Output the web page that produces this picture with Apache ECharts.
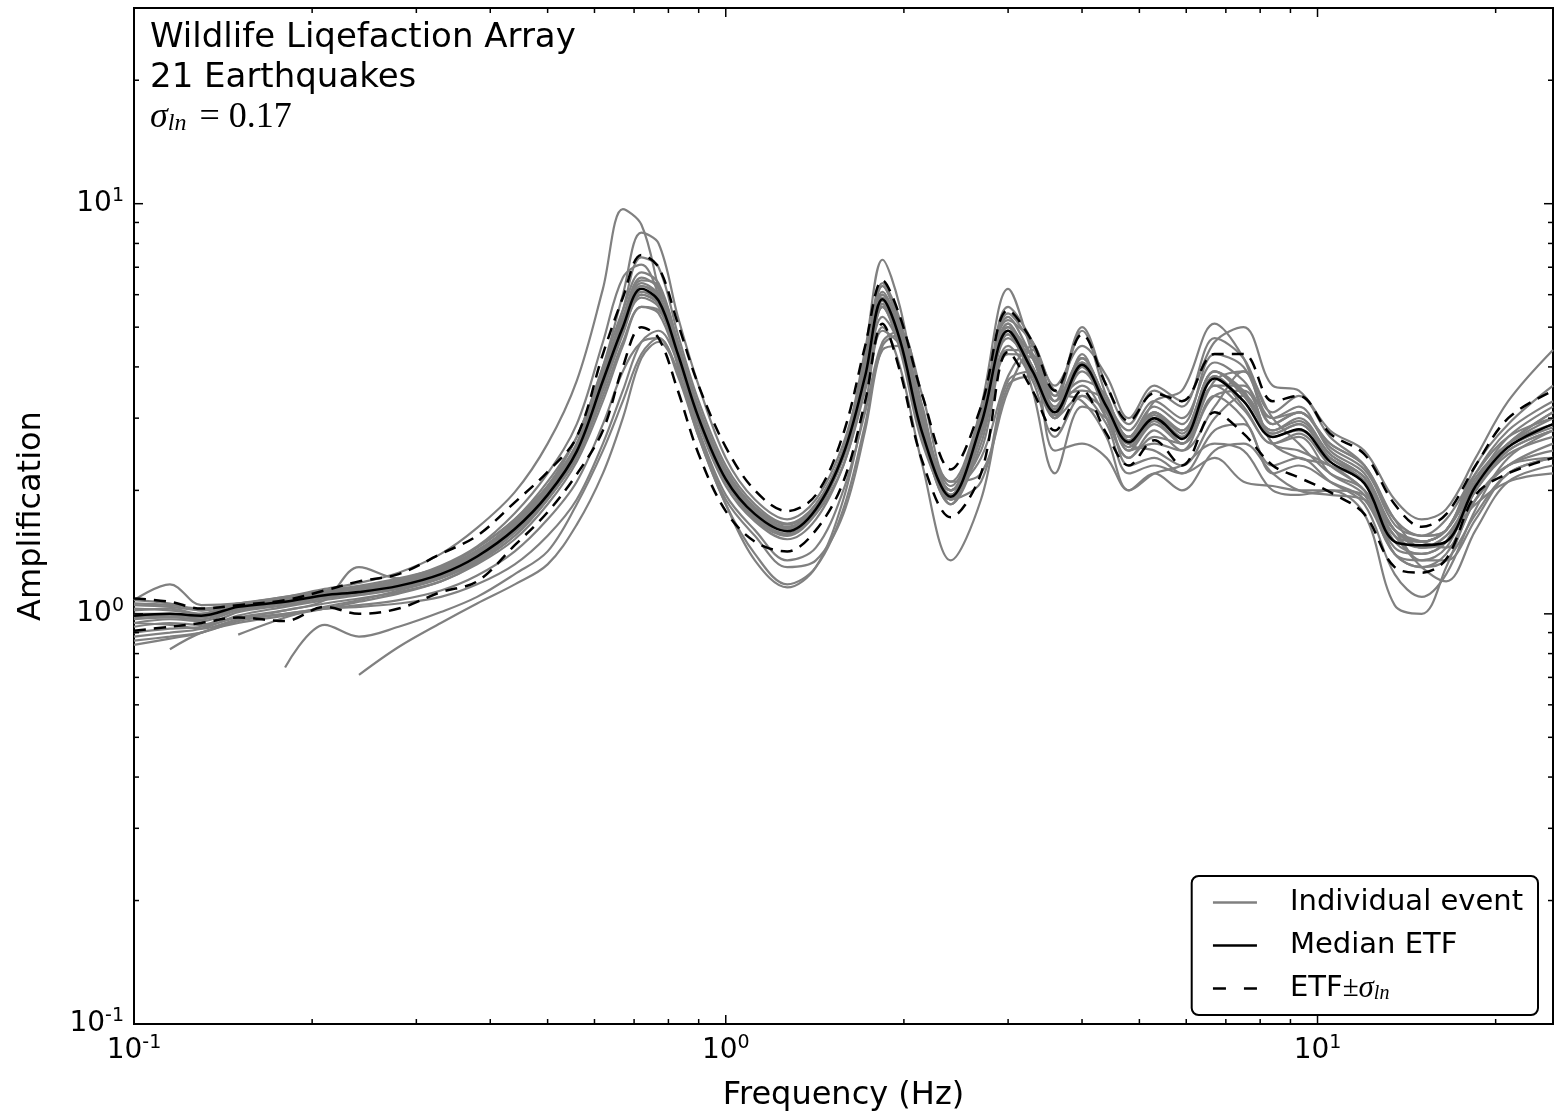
<!DOCTYPE html>
<html><head><meta charset="utf-8">
<script src="https://cdn.jsdelivr.net/npm/echarts@6/dist/echarts.min.js"></script>
<style>html,body{margin:0;padding:0;background:#fff}#c{width:1560px;height:1117px}</style>
</head><body><div id="c"></div>
<script>
// Frequency grid (Hz)
const freq = [0.1,0.115,0.13,0.15,0.18, 0.21,0.24,0.28,0.33,0.38, 0.44,0.5,0.56,0.62,0.67, 0.72,0.77,0.83,0.9,1.0, 1.12,1.27,1.42,1.58,1.72, 1.84,1.97,2.15,2.4,2.7, 3.0,3.3,3.6,4.0,4.4, 4.8,5.3,5.9,6.7,7.5, 8.4,9.3,10.5,12,13.5, 15,16.5,18.5,21,25];

const median = [0.99,1.0,0.99,1.04,1.07, 1.11,1.13,1.17,1.25,1.38, 1.61,1.95,2.49,3.7,5.0, 6.2,5.8,4.3,3.0,2.13, 1.75,1.59,1.8,2.45,3.8, 5.85,4.65,2.75,1.93,2.9, 4.9,3.9,3.1,4.05,3.2, 2.62,3.0,2.67,3.75,3.3, 2.7,2.82,2.35,2.08,1.5, 1.47,1.5,2.05,2.55,2.9];
const upperSigma = [1.09,1.07,1.03,1.05,1.08, 1.14,1.2,1.25,1.4,1.55, 1.87,2.22,2.7,4.3,5.9, 7.5,7.0,5.1,3.6,2.55, 2.0,1.78,1.95,2.75,4.5, 6.5,5.3,3.4,2.25,3.2, 5.5,4.6,3.5,4.8,3.6, 2.95,3.45,3.3,4.3,4.3, 3.3,3.4,2.75,2.45,1.85, 1.63,1.75,2.3,3.0,3.5];
const lowerSigma = [0.91,0.93,0.95,0.98,0.96, 1.04,1.0,1.03,1.13,1.2, 1.47,1.77,2.19,2.8,4.0, 5.0,4.7,3.5,2.45,1.78, 1.5,1.42,1.6,2.1,3.3, 5.1,3.9,2.35,1.72,2.2, 4.35,3.5,2.8,3.5,2.75, 2.3,2.65,2.3,3.1,2.75, 2.3,2.15,1.98,1.75,1.3, 1.26,1.36,1.95,2.2,2.4];

const event01 = [1.05,1.04,1.02,1.06,1.1, 1.15,1.19,1.26,1.4,1.62, 1.98,2.6,3.7,6.2,9.7, 8.9,6.2,4.0,2.7,1.85, 1.35,1.16,1.3,1.9,3.2, 4.9,4.5,2.9,2.0,2.5, 4.3,4.2,3.2,3.6,3.0, 2.4,2.7,2.6,3.4,3.5, 2.6,2.5,2.3,2.1,1.6, 1.5,1.45,1.9,2.3,2.5];
const event02 = [1.0,0.99,1.0,1.05,1.08, 1.12,1.14,1.19,1.28,1.42, 1.68,2.05,2.7,4.0,6.0, 8.5,8.0,5.3,3.6,2.4, 1.9,1.7,1.9,2.6,4.1, 6.3,5.1,3.0,2.0,2.9, 5.4,4.5,3.3,4.9,3.4, 2.7,3.2,2.9,4.3,4.0, 3.0,3.2,2.5,2.2,1.6, 1.5,1.6,2.2,2.8,3.3];
const event03 = [0.97,0.98,0.97,1.03,1.07, 1.1,1.12,1.16,1.24,1.37, 1.6,1.95,2.5,3.7,5.5, 7.4,7.0,4.8,3.3,2.3, 1.85,1.66,1.85,2.5,4.0, 6.1,4.9,2.9,1.95,2.8, 5.0,4.2,3.2,4.2,3.3, 2.7,3.1,2.6,3.7,3.9, 2.9,3.1,2.6,2.3,1.7, 1.55,1.6,2.3,2.9,3.6];
const event04 = [1.08,1.06,1.02,1.05,1.09, 1.13,1.16,1.21,1.31,1.46, 1.76,2.2,2.9,4.6,6.6, 7.1,6.0,4.2,2.9,2.1, 1.72,1.6,1.8,2.5,4.2, 6.4,5.2,3.0,2.05,3.0, 5.6,4.6,3.4,5.0,3.6, 2.9,3.5,3.2,4.7,4.2, 3.1,3.4,2.7,2.3,1.65, 1.55,1.7,2.2,2.7,3.0];
const event05 = [null,null,null,null,null, null,0.71,0.83,0.95,1.06, 1.18,1.32,1.65,2.2,3.0, 4.2,4.6,3.9,2.8,1.95, 1.6,1.35,1.45,2.0,3.1, 4.6,4.9,3.2,1.9,2.1, 3.7,3.9,3.0,3.4,3.1, 2.3,2.4,2.2,2.8,2.9, 2.2,2.3,2.1,1.9,1.4, 1.3,1.35,1.75,2.2,2.4];
const event06 = [null,null,null,null,0.74, 0.94,0.88,0.93,1.01,1.1, 1.25,1.42,1.85,2.5,3.3, 4.3,4.7,3.9,2.75,1.9, 1.55,1.3,1.35,1.75,2.8, 4.5,4.8,3.4,2.1,2.2, 3.5,4.4,3.5,3.3,2.7, 2.0,2.2,2.0,2.5,2.6, 2.2,2.0,1.95,1.9,1.55, 1.3,1.2,1.6,2.1,2.3];
const event07 = [null,0.82,0.9,0.95,0.99, 1.03,1.07,1.12,1.2,1.32, 1.52,1.85,2.35,3.3,4.5, 5.6,5.5,4.2,3.0,2.15, 1.75,1.6,1.82,2.5,3.9, 5.6,4.6,2.8,1.95,2.8, 4.7,4.0,3.0,3.9,3.2, 2.5,2.9,2.6,3.6,3.6, 2.7,2.8,2.4,2.1,1.5, 1.4,1.5,2.0,2.5,2.8];
const event08 = [null,null,null,0.89,0.98, 1.04,1.08,1.14,1.22,1.34, 1.55,1.9,2.42,3.5,4.8, 6.0,5.7,4.3,3.05,2.2, 1.78,1.62,1.83,2.45,3.7, 5.7,4.7,2.85,2.0,3.0, 5.1,4.0,3.1,4.1,3.3, 2.7,3.1,2.8,3.9,3.4, 2.8,3.0,2.45,2.15,1.6, 1.5,1.6,2.1,2.6,2.9];
const event09 = [0.93,0.95,0.94,1.01,1.05, 1.09,1.12,1.16,1.25,1.4, 1.65,2.0,2.6,3.9,5.3, 6.6,6.2,4.5,3.1,2.2, 1.8,1.62,1.82,2.45,3.85, 5.9,4.7,2.8,1.9,2.8, 4.8,3.8,3.0,4.0,3.1, 2.6,3.0,2.7,3.8,3.2, 2.6,2.75,2.3,2.0,1.45, 1.4,1.5,2.1,2.6,3.1];
const event10 = [1.02,1.03,1.0,1.05,1.08, 1.12,1.15,1.19,1.28,1.42, 1.67,2.02,2.58,3.85,5.2, 6.5,6.3,4.6,3.2,2.25, 1.82,1.65,1.85,2.5,3.9, 6.0,4.8,2.85,1.95,2.9, 4.9,3.9,3.15,4.1,3.3, 2.65,3.0,2.8,3.9,3.5, 2.75,2.9,2.4,2.1,1.55, 1.45,1.55,2.0,2.45,2.7];
const event11 = [0.86,0.88,0.9,0.96,1.0, 1.03,1.04,1.06,1.1,1.18, 1.32,1.55,1.9,2.6,3.5, 4.6,4.9,4.1,3.0,2.1, 1.7,1.55,1.75,2.3,3.6, 5.3,4.5,2.7,1.85,2.6, 4.4,4.3,3.3,3.7,3.4, 2.5,2.6,2.5,3.2,3.9, 3.0,2.6,2.2,2.0,1.4, 1.3,1.4,1.9,2.3,2.6];
const event12 = [0.95,0.97,0.96,1.02,1.06, 1.1,1.13,1.18,1.27,1.4, 1.62,1.98,2.5,3.6,4.9, 5.9,5.6,4.2,2.95,2.1, 1.72,1.56,1.78,2.5,4.4, 7.3,5.6,3.0,1.85,3.2, 6.2,4.3,3.0,4.3,3.0, 2.4,2.8,2.5,3.4,3.0, 2.3,2.4,2.1,1.85,1.25, 1.1,1.25,1.8,2.4,2.8];
const event13 = [1.08,1.18,1.05,1.06,1.1, 1.14,1.17,1.22,1.3,1.45, 1.7,2.05,2.6,3.9,5.2, 6.4,6.0,4.4,3.05,2.15, 1.76,1.6,1.8,2.5,4.0, 6.0,4.8,2.8,2.1,3.1, 5.2,4.6,3.6,4.5,3.8, 3.0,3.6,3.3,4.6,5.0, 3.6,3.5,2.8,2.5,1.9, 1.7,1.8,2.4,3.3,4.4];
const event14 = [0.9,0.92,0.93,0.98,1.02, 1.06,1.09,1.13,1.2,1.33, 1.55,1.9,2.4,3.4,4.6, 5.6,5.4,4.1,2.9,2.05, 1.68,1.52,1.7,2.3,3.5, 5.0,4.0,2.3,1.35,1.9, 3.6,3.8,2.5,2.6,2.4, 2.0,2.2,2.3,2.6,2.5, 2.0,1.95,2.0,1.75,1.05, 1.0,1.3,1.9,2.3,2.4];
const event15 = [1.03,1.02,1.0,1.05,1.09, 1.13,1.16,1.2,1.3,1.45, 1.7,2.1,2.7,4.0,5.5, 6.8,6.4,4.6,3.15,2.2, 1.8,1.63,1.83,2.5,4.0, 6.3,5.0,2.9,2.0,3.0, 5.3,4.2,3.3,4.2,3.3, 2.8,3.3,3.0,4.1,3.7, 3.0,3.1,2.55,2.25,1.7, 1.55,1.6,2.1,2.7,3.2];
const event16 = [0.95,0.94,0.92,0.97,1.0, 1.03,1.05,1.08,1.14,1.24, 1.42,1.7,2.1,2.9,3.9, 4.6,4.7,3.8,2.7,1.85, 1.4,1.18,1.3,1.8,2.9, 4.4,4.5,3.1,2.0,2.4, 3.8,4.5,3.4,3.5,3.3, 2.6,2.5,2.3,3.0,3.4, 2.6,2.4,2.3,2.0,1.6, 1.35,1.35,1.7,2.2,2.4];
const event17 = [0.98,0.99,0.98,1.03,1.07, 1.11,1.13,1.17,1.26,1.39, 1.63,2.0,2.55,3.8,5.1, 6.3,5.9,4.35,3.0,2.15, 1.77,1.6,1.82,2.48,3.85, 5.8,4.6,2.75,1.9,2.85, 4.8,3.8,3.05,4.0,3.15, 2.55,2.95,2.6,3.6,3.15, 2.6,2.7,2.2,1.95,1.4, 1.35,1.45,2.0,2.5,2.8];
const event18 = [1.0,1.0,0.99,1.04,1.08, 1.12,1.14,1.2,1.29,1.43, 1.66,2.0,2.55,3.75,5.1, 6.3,6.0,4.4,3.05,2.15, 1.76,1.6,1.8,2.4,3.7, 5.6,4.4,2.6,1.9,3.0, 5.1,3.5,2.2,3.2,3.0, 2.6,3.3,3.5,5.1,4.2, 2.9,3.1,2.6,2.3,1.7, 1.45,1.5,2.0,2.6,3.1];
const event19 = [1.06,1.05,1.03,1.06,1.09, 1.13,1.15,1.19,1.28,1.42, 1.65,2.0,2.55,3.75,5.0, 6.1,5.8,4.3,3.0,2.15, 1.78,1.62,1.83,2.45,3.75, 5.6,4.5,2.7,1.85,2.7, 4.5,3.7,2.7,3.4,2.9, 2.2,2.3,2.2,2.4,2.1, 2.05,2.0,2.0,1.95,1.6, 1.45,1.55,1.85,2.1,2.2];
const event20 = [0.88,0.9,0.92,0.99,1.04, 1.08,1.11,1.15,1.23,1.36, 1.58,1.92,2.45,3.6,4.9, 6.0,5.7,4.25,2.95,2.1, 1.72,1.57,1.77,2.4,3.8, 5.7,4.55,2.7,1.9,2.85, 4.9,3.95,3.1,4.1,3.25, 2.6,3.05,2.7,3.8,3.3, 2.75,2.9,2.4,2.15,1.55, 1.5,1.6,2.15,2.6,3.0];
const event21 = [0.84,0.87,0.9,0.97,1.02, 1.08,1.3,1.22,1.24,1.35, 1.58,1.93,2.45,3.6,4.95, 6.1,5.75,4.25,3.0,2.15, 1.76,1.6,1.8,2.45,3.8, 5.8,4.6,2.75,1.95,2.95, 5.0,4.0,3.15,4.2,3.3, 2.7,3.1,2.75,3.9,3.45, 2.8,2.95,2.45,2.15,1.6, 1.5,1.6,2.1,2.55,2.85];

const events = [event01,event02,event03,event04,event05,event06,event07,event08,event09,event10,event11,event12,event13,event14,event15,event16,event17,event18,event19,event20,event21];

// Axis ticks
const xMajorTicks = [0.1, 1, 10];
const xMinorTicks = [0.2,0.3,0.4,0.5,0.6,0.7,0.8,0.9,2,3,4,5,6,7,8,9,20];
const yMajorTicks = [0.1, 1, 10];
const yMinorTicks = [0.2,0.3,0.4,0.5,0.6,0.7,0.8,0.9,2,3,4,5,6,7,8,9,20];

const titleLines = ['Wildlife Liqefaction Array', '21 Earthquakes'];

const pair = arr => freq.map((f, i) => [f, arr[i]]);

const series = [];
events.forEach(ev => {
  series.push({
    type: 'line', name: 'Individual event', data: pair(ev),
    showSymbol: false, symbol: 'none', smooth: 0.35, connectNulls: false,
    lineStyle: {color: '#808080', width: 2.2}, itemStyle: {color: '#808080'},
    silent: true, z: 2
  });
});
series.push({
  type: 'line', name: 'Median ETF', data: pair(median),
  showSymbol: false, symbol: 'none', smooth: 0.35,
  lineStyle: {color: '#000', width: 2.5}, itemStyle: {color: '#000'}, silent: true, z: 3
});
[upperSigma, lowerSigma].forEach(arr => {
  series.push({
    type: 'line', name: 'ETF±σln', data: pair(arr),
    showSymbol: false, symbol: 'none', smooth: 0.35,
    lineStyle: {color: '#000', width: 2.5, type: [12, 8]}, itemStyle: {color: '#000'}, silent: true, z: 3
  });
});

// tick marks drawn through the axes' scales
const tickData = [];
xMajorTicks.forEach(v => tickData.push([v, 1, 0, 1]));
xMinorTicks.forEach(v => tickData.push([v, 1, 0, 0]));
yMajorTicks.forEach(v => tickData.push([1, v, 1, 1]));
yMinorTicks.forEach(v => tickData.push([1, v, 1, 0]));
series.push({
  type: 'custom', silent: true, z: 5, clip: false,
  encode: {x: 0, y: 1},
  data: tickData,
  renderItem: (params, api) => {
    const cs = params.coordSys;
    const isY = api.value(2) === 1;
    const len = api.value(3) === 1 ? 9 : 5;
    const st = {stroke: '#000', lineWidth: 1.5};
    if (!isY) {
      const px = api.coord([api.value(0), 1])[0];
      return {type: 'group', children: [
        {type: 'line', shape: {x1: px, y1: cs.y + cs.height, x2: px, y2: cs.y + cs.height - len}, style: st},
        {type: 'line', shape: {x1: px, y1: cs.y, x2: px, y2: cs.y + len}, style: st}
      ]};
    } else {
      const py = api.coord([1, api.value(1)])[1];
      return {type: 'group', children: [
        {type: 'line', shape: {x1: cs.x, y1: py, x2: cs.x + len, y2: py}, style: st},
        {type: 'line', shape: {x1: cs.x + cs.width, y1: py, x2: cs.x + cs.width - len, y2: py}, style: st}
      ]};
    }
  }
});

const powLabel = v => {
  const l = Math.log10(v), e = Math.round(l);
  if (Math.abs(l - e) > 1e-6) return '';
  return '{b|10}{s|' + e + '}';
};
const labelRich = {
  b: {fontSize: 28, fontFamily: 'DejaVu Sans', color: '#000', lineHeight: 34},
  s: {fontSize: 19, fontFamily: 'DejaVu Sans', color: '#000', verticalAlign: 'top', lineHeight: 20}
};

const option = {
  animation: false,
  backgroundColor: '#fff',
  grid: {left: 134, right: 7, top: 8, bottom: 90, show: true, borderColor: '#000', borderWidth: 2, backgroundColor: 'transparent'},
  xAxis: {
    type: 'log', logBase: 10, min: 0.1, max: 25,
    name: 'Frequency (Hz)', nameLocation: 'middle', nameGap: 56,
    nameTextStyle: {fontSize: 32, fontFamily: 'DejaVu Sans', color: '#000'},
    axisLine: {show: false}, axisTick: {show: false}, splitLine: {show: false}, minorTick: {show: false},
    axisLabel: {formatter: powLabel, rich: labelRich, margin: 10, showMaxLabel: false}
  },
  yAxis: {
    type: 'log', logBase: 10, min: 0.1, max: 30,
    name: 'Amplification', nameLocation: 'middle', nameGap: 86, nameRotate: 90,
    nameTextStyle: {fontSize: 32, fontFamily: 'DejaVu Sans', color: '#000'},
    axisLine: {show: false}, axisTick: {show: false}, splitLine: {show: false}, minorTick: {show: false},
    axisLabel: {formatter: powLabel, rich: labelRich, margin: 10, showMaxLabel: false}
  },
  legend: {
    orient: 'vertical', right: 22, bottom: 102,
    data: [
      {name: 'Individual event'},
      {name: 'Median ETF'},
      {name: 'ETF±σln', lineStyle: {type: [13, 18]}}
    ],
    itemWidth: 44, itemHeight: 20, itemGap: 12,
    padding: [11, 15, 11, 20],
    borderColor: '#000', borderWidth: 2, borderRadius: 7, backgroundColor: '#fff',
    selectedMode: false,
    itemStyle: {opacity: 0, borderWidth: 0},
    lineStyle: {width: 2.5},
    formatter: name => name === 'ETF±σln' ? '{n|ETF}{pm|±}{sg|σ}{sub|ln}' : name,
    textStyle: {
      fontSize: 29, fontFamily: 'DejaVu Sans', color: '#000', lineHeight: 31, padding: [0, 0, 0, 28],
      rich: {
        n: {fontSize: 29, fontFamily: 'DejaVu Sans', color: '#000'},
        pm: {fontSize: 29, fontFamily: 'Liberation Serif', color: '#000'},
        sg: {fontSize: 31, fontFamily: 'Liberation Serif', fontStyle: 'italic', color: '#000'},
        sub: {fontSize: 20, fontFamily: 'Liberation Serif', fontStyle: 'italic', color: '#000', verticalAlign: 'bottom', lineHeight: 20}
      }
    }
  },
  graphic: [
    {type: 'text', x: 150, y: 38, silent: true, style: {text: titleLines[0], font: '34px "DejaVu Sans"', fill: '#000', verticalAlign: 'middle'}},
    {type: 'text', x: 150, y: 78, silent: true, style: {text: titleLines[1], font: '34px "DejaVu Sans"', fill: '#000', verticalAlign: 'middle'}},
    {type: 'text', x: 150, y: 118, silent: true, style: {
      text: '{a|σ}{b|ln}{c| = 0.17}', verticalAlign: 'middle',
      rich: {
        a: {fontSize: 36, fontFamily: 'Liberation Serif', fontStyle: 'italic', fill: '#000'},
        b: {fontSize: 24, fontFamily: 'Liberation Serif', fontStyle: 'italic', fill: '#000', verticalAlign: 'bottom', lineHeight: 24, padding: [0, 4, 0, 0]},
        c: {fontSize: 36, fontFamily: 'Liberation Serif', fill: '#000'}
      }
    }}
  ],
  series: series
};

const chart = echarts.init(document.getElementById('c'), null, {renderer: 'canvas'});
chart.setOption(option);
</script>
</body></html>
